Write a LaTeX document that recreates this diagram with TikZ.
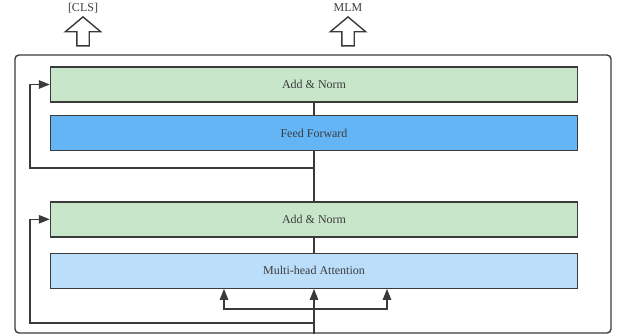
\documentclass[tikz,border=0pt]{standalone}
\usepackage{fontspec}
\setmainfont{Liberation Serif}
\usepackage{tikz}
\usetikzlibrary{arrows.meta, shapes.arrows, positioning}

\definecolor{normgreen}{HTML}{C8E6C9}
\definecolor{ffblue}{HTML}{64B5F6}
\definecolor{attnblue}{HTML}{BBDEFB}
\definecolor{edgegray}{HTML}{3A3A3A}
\definecolor{textgray}{HTML}{3C3C3C}

\begin{document}
\begin{tikzpicture}[x=1pt,y=-1pt,>={Triangle[length=11pt,width=8.5pt]},
                    line width=1.3pt, draw=edgegray,
                    every node/.style={font=\fontsize{12}{14}\selectfont, text=textgray}]
  \tikzstyle{layer}=[draw=edgegray,line width=1.4pt,minimum width=527pt,minimum height=35pt,inner sep=0pt]
  \tikzstyle{outarrow}=[single arrow,draw=edgegray,line width=1.4pt,fill=white,shape border rotate=90,
                        minimum height=29pt,inner sep=5.5pt,single arrow head extend=11.5pt,single arrow tip angle=100]
  \useasboundingbox (0,0) rectangle (618,335);

  \node[draw=edgegray,rounded corners=4pt,line width=1.4pt,minimum width=596pt,minimum height=278pt,
        inner sep=0pt] (encoder) at (313,194) {};

  \node[layer, fill=normgreen] (an1) at (314,84.5) {Add \& Norm};
  \node[layer, fill=ffblue]    (ff)  [below=12pt of an1] {Feed Forward};
  \node[layer, fill=normgreen] (an2) [below=50pt of ff]  {Add \& Norm};
  \node[layer, fill=attnblue]  (mha) [below=15pt of an2] {Multi-head Attention};

  \node (cls) at (83,8)  {[CLS]};
  \node (mlm) at (348,8) {MLM};
  \node[outarrow] (clsup) at (83,34)  {};
  \node[outarrow] (mlmup) at (348,34) {};

  \coordinate (input) at (mha.south |- encoder.south);
  \coordinate (fork)  at (314,309);
  \coordinate (skipA) at (314,168);
  \coordinate (leftA) at (30,168);
  \coordinate (skipB) at (314,323);
  \coordinate (leftB) at (30,323);

  \draw (an1) -- (ff);
  \draw (ff) -- (an2);
  \draw (an2) -- (mha);
  \draw[->] (skipA) -- (leftA) |- (an1.west);
  \draw[->] (input) -- (mha.south);
  \draw[->] (fork) -| ([xshift=-90pt]mha.south);
  \draw[->] (fork) -| ([xshift=73pt]mha.south);
  \draw[->] (skipB) -- (leftB) |- (an2.west);
\end{tikzpicture}
\end{document}
